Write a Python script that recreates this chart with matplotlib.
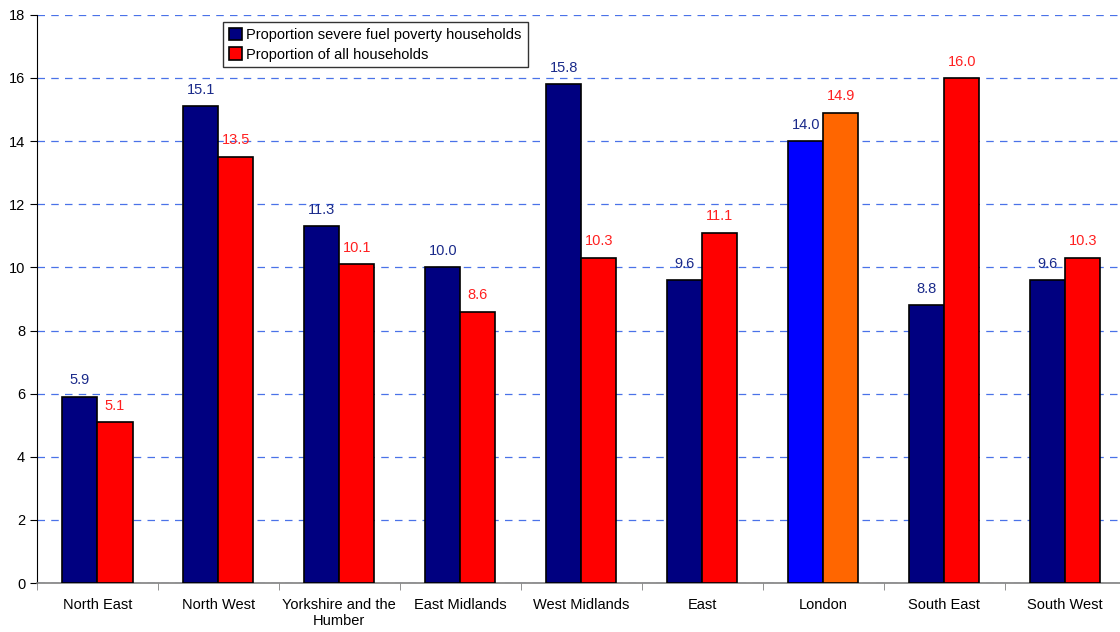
import numpy as np
import matplotlib.pyplot as plt

plt.rcParams['font.family'] = ['Liberation Sans', 'DejaVu Sans']

regions = ["North East", "North West", "Yorkshire and the\nHumber", "East Midlands",
           "West Midlands", "East", "London", "South East", "South West"]
severe = [5.9, 15.1, 11.3, 10.0, 15.8, 9.6, 14.0, 8.8, 9.6]
all_hh = [5.1, 13.5, 10.1, 8.6, 10.3, 11.1, 14.9, 16.0, 10.3]

navy = '#000080'
red = '#ff0000'
sev_colors = [navy] * len(regions)
all_colors = [red] * len(regions)
# London is highlighted
sev_colors[6] = '#0000ff'
all_colors[6] = '#ff6600'

fig = plt.figure(figsize=(11.2, 6.32), dpi=100)
ax = fig.add_axes([0.033, 0.0775, 0.972, 0.899])

x = np.arange(len(regions))
w = 0.29
ax.bar(x - w / 2, severe, w, color=sev_colors, edgecolor='black', linewidth=1.2,
       label='Proportion severe fuel poverty households', zorder=3)
ax.bar(x + w / 2, all_hh, w, color=all_colors, edgecolor='black', linewidth=1.2,
       label='Proportion of all households', zorder=3)

for xi, v in zip(x, severe):
    ax.text(xi - w / 2, v + 0.3, f"{v:.1f}", ha='center', va='bottom', fontsize=10.5,
            color='#1a2a8a', zorder=4)
for xi, v in zip(x, all_hh):
    ax.text(xi + w / 2, v + 0.3, f"{v:.1f}", ha='center', va='bottom', fontsize=10.5,
            color='#ff2020', zorder=4)

ax.set_xlim(-0.5, len(regions) - 0.5)
ax.set_ylim(0, 18)
ax.set_yticks(np.arange(0, 19, 2))
ax.yaxis.grid(True, color='#4a72e8', linestyle=(0, (6, 5)), linewidth=0.9, zorder=0)
ax.set_axisbelow(True)

ax.set_xticks(x)
ax.set_xticklabels(regions, fontsize=10.5)
ax.tick_params(axis='x', length=0, pad=11)
ax.set_xticks(np.arange(-0.5, len(regions), 1), minor=True)
ax.tick_params(axis='x', which='minor', length=5, color='#808080')
ax.tick_params(axis='y', labelsize=10.5, length=5)

ax.spines['top'].set_visible(False)
ax.spines['right'].set_visible(False)
ax.spines['bottom'].set_color('#808080')
ax.spines['bottom'].set_linewidth(1.2)

leg = ax.legend(loc='upper left', bbox_to_anchor=(0.171, 0.988), borderaxespad=0,
                fontsize=10.5, frameon=True, fancybox=False, edgecolor='black',
                handlelength=0.9, handleheight=0.9, handletextpad=0.3,
                borderpad=0.4, labelspacing=0.4)
leg.get_frame().set_linewidth(1.0)
# legend swatches
leg.legend_handles[0].set_facecolor(navy)
leg.legend_handles[1].set_facecolor(red)

fig.savefig('out.png', dpi=100)
